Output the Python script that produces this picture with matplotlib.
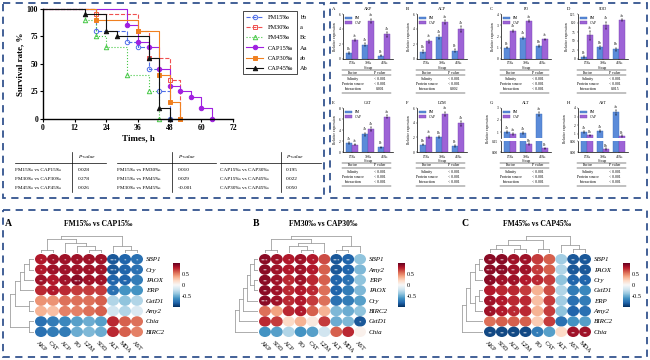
import numpy as np
import matplotlib.pyplot as plt
from matplotlib.patches import Ellipse, Rectangle
from matplotlib.colors import Normalize
import matplotlib.cm as cm

plt.rcParams['font.family'] = ['Liberation Serif', 'DejaVu Serif']
plt.rcParams['axes.linewidth'] = 0.5

# survival curves (time in h, survival in %)
fm15_t = [0, 20, 32, 36, 40, 44, 48]
fm15_s = [100, 80, 70, 65, 45, 25, 0]
fm30_t = [0, 20, 36, 40, 48, 52]
fm30_s = [100, 95, 80, 55, 35, 0]
fm45_t = [0, 16, 20, 24, 32, 40, 44]
fm45_s = [100, 90, 75, 65, 40, 25, 0]
cap15_t = [0, 32, 36, 40, 44, 48, 52, 56, 60, 64]
cap15_s = [100, 85, 70, 65, 45, 30, 25, 20, 10, 0]
cap30_t = [0, 20, 36, 44, 48, 52]
cap30_s = [100, 90, 80, 40, 15, 0]
cap45_t = [0, 16, 24, 28, 40, 44, 48]
cap45_s = [100, 95, 80, 75, 55, 10, 0]
surv_labels = ['FM15‰', 'FM30‰', 'FM45‰', 'CAP15‰', 'CAP30‰', 'CAP45‰']
surv_letters = ['bb', 'a', 'Bc', 'Aa', 'ab', 'Ab']

# pairwise log-rank P values
pair_names = [['FM15‰ vs CAP15‰', 'FM30‰ vs CAP30‰', 'FM45‰ vs CAP45‰'],
              ['FM15‰ vs FM30‰', 'FM15‰ vs FM45‰', 'FM30‰ vs FM45‰'],
              ['CAP15‰ vs CAP30‰', 'CAP15‰ vs CAP45‰', 'CAP30‰ vs CAP45‰']]
pair_p = [['0.028', '0.278', '0.026'],
          ['0.010', '0.029', '<0.001'],
          ['0.195', '0.022', '0.050']]

# bar panels
bar_titles = ['AKP', 'ACP', 'PO', 'SOD', 'CAT', 'LZM', 'ALT', 'AST']
bar_letters = list('ABCDEFGH')
groups = ['15‰', '30‰', '45‰']
fm_vals = [[0.8, 1.9, 0.45], [1.0, 2.9, 1.1], [1.0, 1.9, 1.15], [5, 32, 27],
           [1.6, 3.2, 0.9], [1.0, 2.0, 0.8], [1.0, 0.9, 2.5], [1.2, 1.35, 3.5]]
cap_vals = [[2.5, 5.1, 3.3], [2.4, 4.9, 4.0], [2.5, 3.35, 1.75], [66, 94, 108],
            [1.3, 4.2, 6.4], [2.1, 5.2, 3.9], [0.85, 0.11, 0.05], [0.8, 0.015, 0.7]]
fm_err = [[0.1, 0.2, 0.1], [0.15, 0.25, 0.2], [0.05, 0.08, 0.1], [2, 4, 4],
          [0.15, 0.3, 0.1], [0.1, 0.15, 0.1], [0.1, 0.1, 0.2], [0.1, 0.1, 0.3]]
cap_err = [[0.15, 0.3, 0.3], [0.2, 0.3, 0.4], [0.1, 0.08, 0.05], [12, 10, 3],
           [0.1, 0.3, 0.3], [0.15, 0.3, 0.3], [0.1, 0.01, 0.01], [0.1, 0.005, 0.1]]
fm_sig = [['Ba', 'Ab', 'Bc'], ['Ba', 'Ab', 'Bc'], ['Bc', 'Ab', 'Bb'], ['Bc', 'Bb', 'Bb'],
          ['Ab', 'Ab', 'Bc'], ['Bb', 'Ba', 'Bc'], ['Ab', 'Ab', 'Aa'], ['Ab', 'Ab', 'Aa']]
cap_sig = [['Ac', 'Aa', 'Ab'], ['Ac', 'Aa', 'Ab'], ['Ab', 'Aa', 'Ac'], ['Ac', 'Ab', 'Aa'],
           ['Ac', 'Ab', 'Aa'], ['Ac', 'Aa', 'Ab'], ['Aa', 'Bb', 'Bc'], ['Ba', 'Bb', 'Bc']]
bar_ylim = [6, 6, 4, 125, 8, 6, None, None]
bar_yticks = [[0, 2, 4, 6], [0, 2, 4, 6], [0, 1, 2, 3, 4], [0, 25, 50, 75, 100, 125],
              [0, 2, 4, 6, 8], [0, 2, 4, 6], None, None]
# broken axes for G and H: (upper lo, upper hi, lower hi)
broken = {6: (0.5, 3, 0.15), 7: (0.5, 4, 0.06)}
factors = ['Salinity', 'Protein source', 'Interaction']
factor_p = [['< 0.001', '< 0.001', '0.001'], ['< 0.001', '< 0.001', '0.002'],
            ['< 0.001'] * 3, ['< 0.001', '< 0.001', '0.015'],
            ['< 0.001'] * 3, ['< 0.001'] * 3, ['< 0.001'] * 3, ['< 0.001'] * 3]

# correlation heatmaps
genes_A = ['SBP1', 'Cry', 'PAOX', 'ERP', 'GstD1', 'Amy2', 'Chia', 'BIRC2']
index_A = ['AKP', 'CAT', 'ACP', 'PO', 'LZM', 'SOD', 'ALT', 'MDA', 'AST']
corr_A = [[0.8, 0.85, 0.85, 0.85, 0.85, 0.85, -0.85, -0.8, -0.75],
          [0.8, 0.85, 0.85, 0.85, 0.85, 0.85, -0.85, -0.8, -0.75],
          [0.85, 0.8, 0.85, 0.9, 0.85, 0.85, -0.8, -0.8, -0.7],
          [0.75, 0.8, 0.75, 0.7, 0.7, 0.7, -0.75, -0.6, -0.6],
          [0.45, 0.45, 0.55, 0.55, 0.55, 0.6, -0.3, -0.4, -0.3],
          [0.35, 0.3, 0.5, 0.5, 0.55, 0.6, -0.2, -0.3, -0.15],
          [-0.75, -0.7, -0.65, -0.55, -0.5, -0.55, 0.75, 0.6, 0.55],
          [-0.75, -0.7, -0.7, -0.5, -0.45, -0.5, 0.75, 0.6, 0.5]]
sig_A = ['* * * * * * *** * *', '* * * * * * *** * *', '** * * *** * * ** ** -',
         '- * - - - - * - -', '- - - - - - - - -', '- - - - - - - - -',
         '- - - - - - - - -', '- - - - - - - - -']
rtree_A = (((((0, 1), 2), 3), (4, 5)), (6, 7))
ctree_A = (((0, 1), (2, (3, (4, 5)))), (6, (7, 8)))

genes_B = ['SBP1', 'Amy2', 'ERP', 'PAOX', 'Cry', 'BIRC2', 'GstD1', 'Chia']
index_B = ['AKP', 'SOD', 'ACP', 'PO', 'CAT', 'LZM', 'ALT', 'MDA', 'AST']
corr_B = [[0.9, 0.85, 0.8, 0.85, 0.8, 0.65, -0.85, -0.8, -0.4],
          [0.9, 0.85, 0.8, 0.85, 0.8, 0.6, -0.85, -0.8, -0.45],
          [0.9, 0.85, 0.75, 0.85, 0.75, 0.6, -0.8, -0.75, -0.4],
          [0.9, 0.85, 0.75, 0.8, 0.75, 0.55, -0.8, -0.7, -0.45],
          [0.9, 0.85, 0.75, 0.8, 0.7, 0.55, -0.75, -0.7, -0.55],
          [0.55, 0.4, 0.75, 0.8, 0.6, 0.35, -0.45, -0.5, -0.4],
          [0.75, 0.7, 0.2, 0.35, 0.1, 0.7, -0.5, -0.45, -0.85],
          [-0.6, -0.55, -0.3, -0.6, -0.55, -0.2, 0.6, 0.75, 0.05]]
sig_B = ['*** ** * ** * - *** ** -', '** ** * ** * - ** * -', '** ** * ** - - * * -',
         '** ** * * * - * - -', '*** ** * * - - - - -', '- - - * - - - - -',
         '- - - - - - - - *', '- - - - - - - - -']
rtree_B = ((((((0, 1), (2, 3)), 4), 5), 6), 7)
ctree_B = (((0, 1), ((2, (3, 4)), 5)), ((6, 7), 8))

genes_C = ['SBP1', 'PAOX', 'Cry', 'GstD1', 'ERP', 'Amy2', 'BIRC2', 'Chia']
index_C = ['AKP', 'SOD', 'ACP', 'LZM', 'PO', 'CAT', 'ALT', 'AST', 'MDA']
corr_C = [[0.9, 0.9, 0.85, 0.85, 0.7, 0.6, -0.35, -0.85, -0.85],
          [0.9, 0.9, 0.85, 0.85, 0.7, 0.6, -0.3, -0.85, -0.85],
          [0.9, 0.85, 0.85, 0.8, 0.75, 0.7, -0.4, -0.8, -0.8],
          [0.8, 0.75, 0.75, 0.7, 0.35, 0.65, -0.3, -0.7, -0.65],
          [0.85, 0.8, 0.75, 0.75, 0.3, 0.7, -0.35, -0.75, -0.7],
          [0.85, 0.8, 0.75, 0.75, 0.35, 0.7, -0.4, -0.8, -0.75],
          [0.55, 0.6, 0.6, 0.6, 0.25, 0.7, -0.75, -0.6, -0.55],
          [-0.9, -0.9, -0.9, -0.9, -0.7, -0.55, 0.2, 0.85, 0.85]]
sig_C = ['** ** ** ** - - - ** **', '*** *** ** * * - - * *', '* * * * * - - * *',
         '- - - - - - - - -', '* * - - - - - - -', '* * * - - - - - -',
         '- - - - - - - - -', '** ** ** ** * - - ** **']
rtree_C = (((((0, 1), 2), ((3, 4), 5)), 6), 7)
ctree_C = ((((0, 1), (2, 3)), (4, 5)), (6, (7, 8)))

W, H = 650, 360
fig = plt.figure(figsize=(6.5, 3.6), dpi=100)


def px_axes(x0, y0, x1, y1):
    return fig.add_axes([x0 / W, 1 - y1 / H, (x1 - x0) / W, (y1 - y0) / H])


bg = fig.add_axes([0, 0, 1, 1])
bg.set_xlim(0, W)
bg.set_ylim(H, 0)
bg.axis('off')

# dashed frames
for x0, y0, x1, y1 in [(3, 3, 324, 198), (330, 3, 647, 198), (3, 210, 647, 357)]:
    bg.add_patch(Rectangle((x0, y0), x1 - x0, y1 - y0, fill=False, ec='#34548f',
                           lw=1.3, ls=(0, (4, 3))))

# ---- survival plot ----
ax = px_axes(43, 9, 233, 119)
surv = [(fm15_t, fm15_s), (fm30_t, fm30_s), (fm45_t, fm45_s),
        (cap15_t, cap15_s), (cap30_t, cap30_s), (cap45_t, cap45_s)]
styles = [('#4f6ee8', '--', 'o', 'none'), ('#f05050', '--', 's', 'none'),
          ('#45c845', ':', '^', 'none'), ('#a020e0', '-', 'o', '#a020e0'),
          ('#f08020', '-', 's', '#f08020'), ('#111111', '-', '^', '#111111')]
for (t, s), (c, ls, mk, mfc), lab in zip(surv, styles, surv_labels):
    ax.step(t, s, where='post', color=c, ls=ls, marker=mk, mfc=mfc, mec=c,
            markevery=list(range(1, len(t))), ms=3.2, mew=0.7, lw=0.8,
            clip_on=False, label=lab)
ax.set_xlim(0, 72)
ax.set_ylim(0, 100)
ax.set_xticks(range(0, 73, 12))
ax.set_yticks([0, 25, 50, 75, 100])
ax.spines[['top', 'right']].set_visible(False)
ax.spines[['left', 'bottom']].set_linewidth(1.0)
ax.tick_params(labelsize=5.5, width=0.8, length=2, pad=1.5)
for lbl in ax.get_xticklabels() + ax.get_yticklabels():
    lbl.set_fontweight('bold')
ax.set_xlabel('Times, h', fontsize=6.5, fontweight='bold', labelpad=2)
ax.set_ylabel('Survival rate, %', fontsize=6.5, fontweight='bold', labelpad=2)
leg = ax.legend(loc='upper left', bbox_to_anchor=(240 / W, 1 - 8 / H),
                bbox_transform=fig.transFigure, fontsize=4.6, fancybox=False,
                edgecolor='black', framealpha=1, labelspacing=0.75,
                handlelength=2.6, borderpad=0.5)
leg.get_frame().set_linewidth(0.5)
fig.canvas.draw()
for txt, let in zip(leg.get_texts(), surv_letters):
    bb = txt.get_window_extent()
    fig.text(300 / W, (bb.y0 + bb.y1) / 2 / fig.bbox.height, let, fontsize=4.6,
             va='center')

# P-value tables
tab_x = [(15, 72, 78, 106), (117, 172, 178, 216), (220, 281, 286, 321)]
for k, (x0, xv, xp, x1) in enumerate(tab_x):
    bg.text(xp, 157, 'P-value', style='italic', fontsize=3.8, va='center')
    bg.plot([x0, x1], [163, 163], color='k', lw=0.5)
    bg.plot([xv, xv], [152, 192], color='k', lw=0.5)
    for r in range(3):
        bg.text(x0, 170 + 9 * r, pair_names[k][r], fontsize=3.8, va='center')
        bg.text(xp, 170 + 9 * r, pair_p[k][r], fontsize=3.8, va='center')

# ---- bar panels ----
FM_C, CAP_C = '#5b8bd9', '#9d63d6'
col_x = [343, 417, 501, 578]
row_y = [(14, 59), (108, 152)]
pw = 50
xg = np.arange(3)


def draw_bars(a, k):
    a.bar(xg - 0.19, fm_vals[k], 0.34, yerr=fm_err[k], color=FM_C, ec='#3b6bb8',
          lw=0.3, error_kw=dict(lw=0.3, capsize=0.8, capthick=0.3), label='FM')
    a.bar(xg + 0.19, cap_vals[k], 0.34, yerr=cap_err[k], color=CAP_C, ec='#7a45b0',
          lw=0.3, error_kw=dict(lw=0.3, capsize=0.8, capthick=0.3), label='CAP')
    a.set_xlim(-0.55, 2.55)
    a.spines[['top', 'right']].set_visible(False)
    a.tick_params(labelsize=2.6, width=0.3, length=1, pad=0.8)


for k in range(8):
    x0 = col_x[k % 4]
    yt, yb = row_y[k // 4]
    if k in broken:
        lo, hi, lhi = broken[k]
        au = px_axes(x0, yt, x0 + pw, yb - 14)
        al = px_axes(x0, yb - 11, x0 + pw, yb)
        for a in (au, al):
            draw_bars(a, k)
        au.set_ylim(lo, hi)
        au.set_yticks(range(1, int(hi) + 1))
        al.set_ylim(0, lhi)
        al.set_yticks([0, lhi])
        au.spines['bottom'].set_visible(False)
        au.set_xticks([])
        main, bottom_ax = au, al
        axes_list = [(au, lo, hi), (al, 0, lhi)]
    else:
        a = px_axes(x0, yt, x0 + pw, yb)
        draw_bars(a, k)
        a.set_ylim(0, bar_ylim[k])
        a.set_yticks(bar_yticks[k])
        main, bottom_ax = a, a
        axes_list = [(a, 0, bar_ylim[k])]
    bottom_ax.set_xticks(xg)
    bottom_ax.set_xticklabels(groups)
    bottom_ax.set_xlabel('Group', fontsize=2.6, labelpad=0.5)
    main.set_ylabel('Relative expression', fontsize=2.6, labelpad=1)
    if bottom_ax is not main:
        main.yaxis.set_label_coords(-0.22, 0.3)
    main.legend(loc='upper left', fontsize=2.6, frameon=False, handlelength=1.8,
                handleheight=0.6, borderaxespad=0.2, labelspacing=0.2)
    # significance letters
    for vals, errs, sigs, off in [(fm_vals[k], fm_err[k], fm_sig[k], -0.19),
                                  (cap_vals[k], cap_err[k], cap_sig[k], 0.19)]:
        for i in range(3):
            top = vals[i] + errs[i]
            for a, lo_, hi_ in axes_list:
                if lo_ <= top <= hi_ and (len(axes_list) == 1 or lo_ > 0 or top < hi_):
                    a.text(i + off, top + (hi_ - lo_) * 0.03, sigs[i], fontsize=2.3,
                           ha='center', va='bottom')
                    break
    bg.text(x0 - 11, yt - 5, bar_letters[k], fontsize=3.4, va='center')
    bg.text(x0 + pw / 2, yt - 5, bar_titles[k], fontsize=3, ha='center', va='center')
    # factor table
    ty = yb + 11
    bg.plot([x0 - 1, x0 + 48], [ty, ty], color='k', lw=0.35)
    bg.plot([x0 - 1, x0 + 48], [ty + 5, ty + 5], color='k', lw=0.35)
    bg.plot([x0 - 1, x0 + 48], [ty + 23, ty + 23], color='k', lw=0.35)
    bg.text(x0 + 10, ty + 2.5, 'Factor', fontsize=2.8, ha='center', va='center')
    bg.text(x0 + 37, ty + 2.5, 'P value', fontsize=2.8, ha='center', va='center')
    for r in range(3):
        bg.text(x0 + 10, ty + 9 + 5 * r, factors[r], fontsize=2.8, ha='center', va='center')
        bg.text(x0 + 37, ty + 9 + 5 * r, factor_p[k][r], fontsize=2.8, ha='center',
                va='center')


# ---- correlation heatmaps ----
def dendro(a, tree, orient):
    def walk(node):
        if isinstance(node, int):
            return node, 0
        res = [walk(c) for c in node]
        h = max(r[1] for r in res) + 1
        ps = [r[0] for r in res]
        for p, ch in res:
            if orient == 'top':
                a.plot([p, p], [ch, h], color='#a0a0a0', lw=0.6)
            else:
                a.plot([ch, h], [p, p], color='#a0a0a0', lw=0.6)
        if orient == 'top':
            a.plot([min(ps), max(ps)], [h, h], color='#a0a0a0', lw=0.6)
        else:
            a.plot([h, h], [min(ps), max(ps)], color='#a0a0a0', lw=0.6)
        return (min(ps) + max(ps)) / 2, h
    _, hmax = walk(tree)
    if orient == 'top':
        a.set_xlim(-0.5, 8.5)
        a.set_ylim(0, hmax)
    else:
        a.set_ylim(7.5, -0.5)
        a.set_xlim(hmax, 0)
    a.axis('off')


norm = Normalize(-1, 1)
cmap = plt.get_cmap('RdBu_r')
heat = [(35, 143, 10, 173, corr_A, sig_A, genes_A, index_A, rtree_A, ctree_A,
         'A', 'FM15‰ vs CAP15‰', 5, 98),
        (259, 366, 235, 398, corr_B, sig_B, genes_B, index_B, rtree_B, ctree_B,
         'B', 'FM30‰ vs CAP30‰', 253, 323),
        (484, 591, 462, 623, corr_C, sig_C, genes_C, index_C, rtree_C, ctree_C,
         'C', 'FM45‰ vs CAP45‰', 462, 537)]
for hx0, hx1, dx0, cbx, vals, sig, rows, cols, rtree, ctree, let, title, lx, tx in heat:
    a = px_axes(hx0, 254, hx1, 337)
    for i in range(8):
        marks = sig[i].split()
        for j in range(9):
            a.add_patch(Ellipse((j, i), 1.0, 1.0, color=cmap(norm(vals[i][j])), lw=0))
            if marks[j] != '-':
                a.text(j, i + 0.12, marks[j], color='white', fontsize=3.6,
                       ha='center', va='center')
    a.set_xlim(-0.5, 8.5)
    a.set_ylim(7.5, -0.5)
    a.set_xticks(range(9))
    a.set_xticklabels(cols, rotation=-45, fontsize=4.5, ha='center', va='top')
    a.yaxis.tick_right()
    a.set_yticks(range(8))
    a.set_yticklabels(rows, fontsize=5, style='italic')
    a.tick_params(length=0, pad=2)
    for sp in a.spines.values():
        sp.set_visible(False)
    dendro(px_axes(hx0, 236, hx1, 253), ctree, 'top')
    dendro(px_axes(dx0, 254, hx0 - 1, 337), rtree, 'left')
    cax = px_axes(cbx, 263, cbx + 7, 307)
    cb = fig.colorbar(cm.ScalarMappable(norm=norm, cmap=cmap), cax=cax)
    cb.set_ticks([-0.5, 0, 0.5])
    cb.set_ticklabels(['-0.5', '0', '0.5'])
    cb.ax.tick_params(labelsize=4.5, length=0, pad=1.5)
    cb.outline.set_visible(False)
    bg.text(lx, 224, let, fontsize=7, fontweight='bold', va='center')
    bg.text(tx, 224, title, fontsize=5.5, fontweight='bold', ha='center', va='center')

fig.savefig('out.png', dpi=100)
